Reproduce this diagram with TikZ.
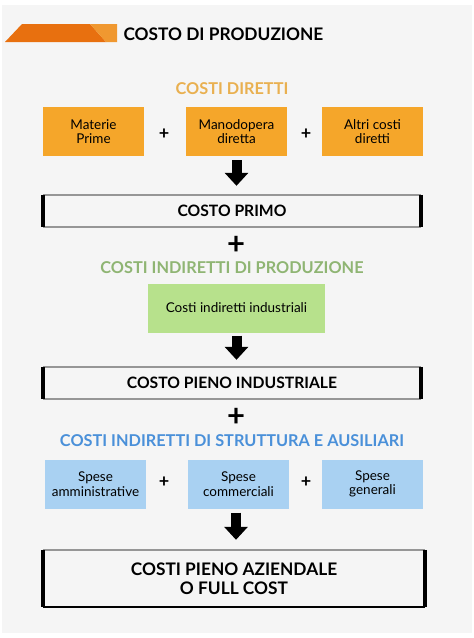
\documentclass[tikz,border=0pt]{standalone}
\usepackage{fontspec}
\setmainfont{Lato}
\usetikzlibrary{arrows.meta}

% Colours of the picture
\definecolor{bgback}{RGB}{245,245,245}%
\definecolor{bandark}{RGB}{232,112,15}%
\definecolor{banlight}{RGB}{240,152,48}%
\definecolor{dirtitle}{RGB}{233,176,80}%
\definecolor{dirfill}{RGB}{245,166,42}%
\definecolor{indtitle}{RGB}{143,181,115}%
\definecolor{indfill}{RGB}{183,225,140}%
\definecolor{strtitle}{RGB}{74,144,217}%
\definecolor{strfill}{RGB}{169,209,242}%
\definecolor{edgegray}{RGB}{150,150,150}%

\tikzset{
  costbox/.style={minimum width=101pt, minimum height=49pt, inner sep=0pt,
    align=center, font=\fontsize{13.5}{14.5}\selectfont},
  sumbox/.style={minimum width=378pt, minimum height=32pt, inner sep=0pt,
    align=center, font=\bfseries\fontsize{15.7}{17}\selectfont},
  secttitle/.style={font=\bfseries\fontsize{16.3}{17}\selectfont},
  plussign/.style={font=\bfseries\fontsize{18}{18}\selectfont},
  bigplus/.style={font=\bfseries\fontsize{31}{31}\selectfont},
  blockarrow/.style={line width=10pt, -{Triangle[width=23pt,length=13pt]}},
  thinedge/.style={edgegray, line width=1.5pt},
  thickedge/.style={black, line width=4pt}
}

% Drawing the frame of a total box
\newcommand{\drawtotalframe}[1]{%
  \draw [thinedge] (#1.north west) -- (#1.north east);%
  \draw [thinedge] (#1.south west) -- (#1.south east);%
  \draw [thickedge] (#1.north west) -- (#1.south west);%
  \draw [thickedge] (#1.north east) -- (#1.south east);%
}

\begin{document}
\begin{tikzpicture}[x=1pt,y=-1pt]
\useasboundingbox (0,0) rectangle (474,638);

% Background
\fill [white] (0,0) rectangle (474,638);
\fill [bgback] (2,5) rectangle (472,633);

% Drawing the title band
\fill [bandark] (5,42) -- (22,24) -- (90,24) -- (106,42) -- cycle;
\fill [banlight] (90,24) -- (117,24) -- (117,42) -- (106,42) -- cycle;
\node (title) [anchor=west, font=\bfseries\fontsize{17.3}{18}\selectfont] at (120,34) {COSTO DI PRODUZIONE};

% Costi diretti
\node (dirtitle) [secttitle, text=dirtitle] at (232,89) {COSTI DIRETTI};
\node (materie) [costbox, fill=dirfill] at (93.5,131.5) {Materie\\Prime};
\node (manod) [costbox, fill=dirfill] at (236.5,131.5) {Manodopera\\diretta};
\node (altri) [costbox, fill=dirfill] at (372.5,131.5) {Altri costi\\diretti};
\node (plusa) [plussign] at (164,134) {+};
\node (plusb) [plussign] at (306,134) {+};

% Costo primo
\node (primo) [sumbox] at (232,211) {COSTO PRIMO};
\drawtotalframe{primo}
\draw [blockarrow, shorten <=4pt, shorten >=9pt] (manod.south) -- (manod.south |- primo.north);

\node (plusc) [bigplus] at (236,245) {+};

% Costi indiretti di produzione
\node (indtitle) [secttitle, text=indtitle] at (232,268) {COSTI INDIRETTI DI PRODUZIONE};
\node (industr) [costbox, minimum width=177pt, fill=indfill] at (236.5,308) {Costi indiretti industriali};

% Costo pieno industriale
\node (pieno) [sumbox] at (232,383) {COSTO PIENO INDUSTRIALE};
\drawtotalframe{pieno}
\draw [blockarrow, shorten <=3pt, shorten >=7pt] (industr.south) -- (industr.south |- pieno.north);

\node (plusd) [bigplus] at (236,417) {+};

% Costi indiretti di struttura e ausiliari
\node (strtitle) [secttitle, text=strtitle] at (232,441) {COSTI INDIRETTI DI STRUTTURA E AUSILIARI};
\node (ammin) [costbox, fill=strfill] at (95.5,484) {Spese\\amministrative};
\node (commer) [costbox, fill=strfill] at (238.5,484) {Spese\\commerciali};
\node (gener) [costbox, fill=strfill] at (372.5,484) {Spese\\generali};
\node (pluse) [plussign] at (164,482) {+};
\node (plusf) [plussign] at (306,482) {+};

% Costi pieno aziendale
\node (azienda) [sumbox, minimum width=382pt, minimum height=57pt, font=\bfseries\fontsize{17.3}{18.5}\selectfont] at (234,578.5) {COSTI PIENO AZIENDALE\\O FULL COST};
\drawtotalframe{azienda}
\draw [black, line width=2pt] (azienda.south west) -- (azienda.south east);
\draw [blockarrow, shorten <=4pt, shorten >=10pt] (commer.south -| plusd) -- (plusd |- azienda.north);

\end{tikzpicture}
\end{document}
